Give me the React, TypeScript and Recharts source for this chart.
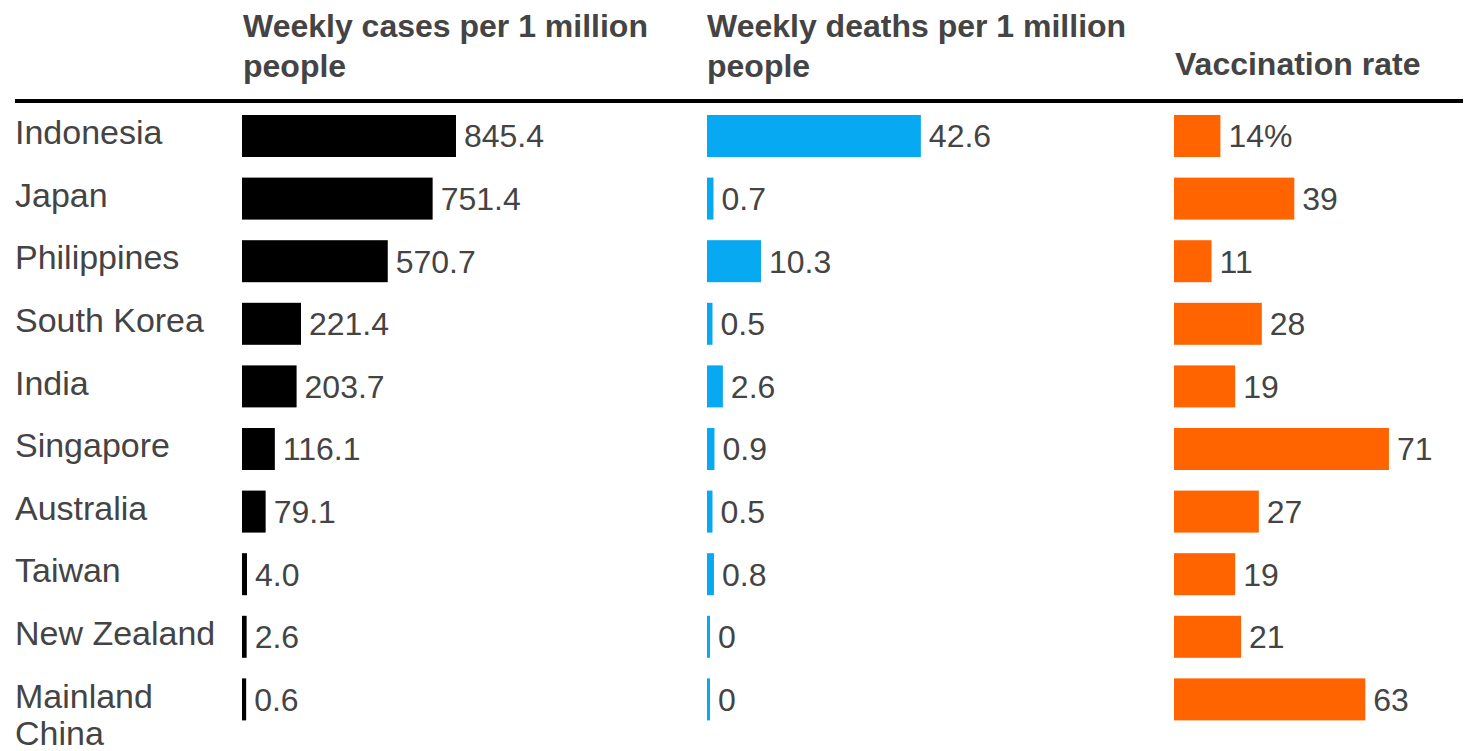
import { BarChart, Bar, XAxis, YAxis, LabelList } from 'recharts'

const countries = [
  'Indonesia',
  'Japan',
  'Philippines',
  'South Korea',
  'India',
  'Singapore',
  'Australia',
  'Taiwan',
  'New Zealand',
  'Mainland China',
]
const weeklyCases = [845.4, 751.4, 570.7, 221.4, 203.7, 116.1, 79.1, 4.0, 2.6, 0.6]
const weeklyDeaths = [42.6, 0.7, 10.3, 0.5, 2.6, 0.9, 0.5, 0.8, 0, 0]
const vaccinationRate = [14, 39, 11, 28, 19, 71, 27, 19, 21, 63]

const data = countries.map((country, i) => ({
  country,
  cases: weeklyCases[i],
  deaths: weeklyDeaths[i],
  vaccination: vaccinationRate[i],
  casesLabel: weeklyCases[i].toFixed(1),
  deathsLabel: weeklyDeaths[i] === 0 ? '0' : weeklyDeaths[i].toFixed(1),
  vaccinationLabel: i === 0 ? `${vaccinationRate[i]}%` : `${vaccinationRate[i]}`,
}))

const FONT = '"Liberation Sans", Arial, Helvetica, sans-serif'
const TEXT = '#444444'
const TOP = 105
const BOTTOM = 20
const H = 751

// bars in the original start a few px left of zero, so every bar gets a small stub
const stubShape = (stub: number, color: string) => (props: any) => (
  <rect
    x={props.x - stub}
    y={props.y}
    width={Math.max(0, props.width || 0) + stub}
    height={props.height}
    fill={color}
  />
)

const CountryTick = (props: any) => {
  const { y, payload } = props
  const name: string = payload.value
  const lines = name.length > 12 ? name.split(' ') : [name]
  return (
    <text x={15} y={y + 8} fill={TEXT} fontSize={34} fontFamily={FONT} textAnchor="start">
      {lines.map((l, i) => (
        <tspan key={l} x={15} dy={i === 0 ? 0 : 37}>
          {l}
        </tspan>
      ))}
    </text>
  )
}

interface PanelProps {
  left: number
  marginLeft: number
  marginRight: number
  plotWidth: number
  max: number
  dataKey: string
  labelKey: string
  color: string
  stub: number
  axisWidth?: number
}

function Panel({ left, marginLeft, marginRight, plotWidth, max, dataKey, labelKey, color, stub, axisWidth }: PanelProps) {
  const width = (axisWidth || 0) + marginLeft + plotWidth + marginRight
  return (
    <div style={{ position: 'absolute', left, top: 0 }}>
      <BarChart
        width={width}
        height={H}
        data={data}
        layout="vertical"
        margin={{ top: TOP, bottom: BOTTOM, left: marginLeft, right: marginRight }}
        style={{ fontFamily: FONT }}
      >
        <XAxis type="number" domain={[0, max]} hide />
        {axisWidth ? (
          <YAxis
            type="category"
            dataKey="country"
            width={axisWidth}
            axisLine={false}
            tickLine={false}
            tick={<CountryTick />}
            interval={0}
          />
        ) : (
          <YAxis type="category" dataKey="country" hide />
        )}
        <Bar dataKey={dataKey} barSize={42} fill={color} shape={stubShape(stub, color)} isAnimationActive={false}>
          <LabelList dataKey={labelKey} position="right" offset={8} fill={TEXT} fontSize={32} fontFamily={FONT} />
        </Bar>
      </BarChart>
    </div>
  )
}

const headerStyle: React.CSSProperties = {
  position: 'absolute',
  fontFamily: FONT,
  fontWeight: 'bold',
  fontSize: 32,
  lineHeight: '40px',
  color: TEXT,
  width: 440,
}

export default function App() {
  return (
    <div style={{ position: 'absolute', left: 0, top: 0, width: 1468, height: 751, background: '#fff', overflow: 'hidden' }}>
      <div style={{ ...headerStyle, left: 243, top: 5.6 }}>Weekly cases per 1 million people</div>
      <div style={{ ...headerStyle, left: 707, top: 5.6 }}>Weekly deaths per 1 million people</div>
      <div style={{ ...headerStyle, left: 1175, top: 44, width: 290 }}>Vaccination rate</div>
      <div style={{ position: 'absolute', left: 15, top: 99, width: 1448, height: 4, background: '#000' }} />

      <Panel
        left={0}
        axisWidth={246}
        marginLeft={0}
        marginRight={120}
        plotWidth={900 * 0.2484}
        max={900}
        dataKey="cases"
        labelKey="casesLabel"
        color="#000000"
        stub={4}
      />
      <Panel
        left={690}
        marginLeft={20}
        marginRight={120}
        plotWidth={45 * 4.95}
        max={45}
        dataKey="deaths"
        labelKey="deathsLabel"
        color="#06a9f2"
        stub={3}
      />
      <Panel
        left={1160}
        marginLeft={19}
        marginRight={50}
        plotWidth={80 * 2.957}
        max={80}
        dataKey="vaccination"
        labelKey="vaccinationLabel"
        color="#ff6400"
        stub={5}
      />
    </div>
  )
}
